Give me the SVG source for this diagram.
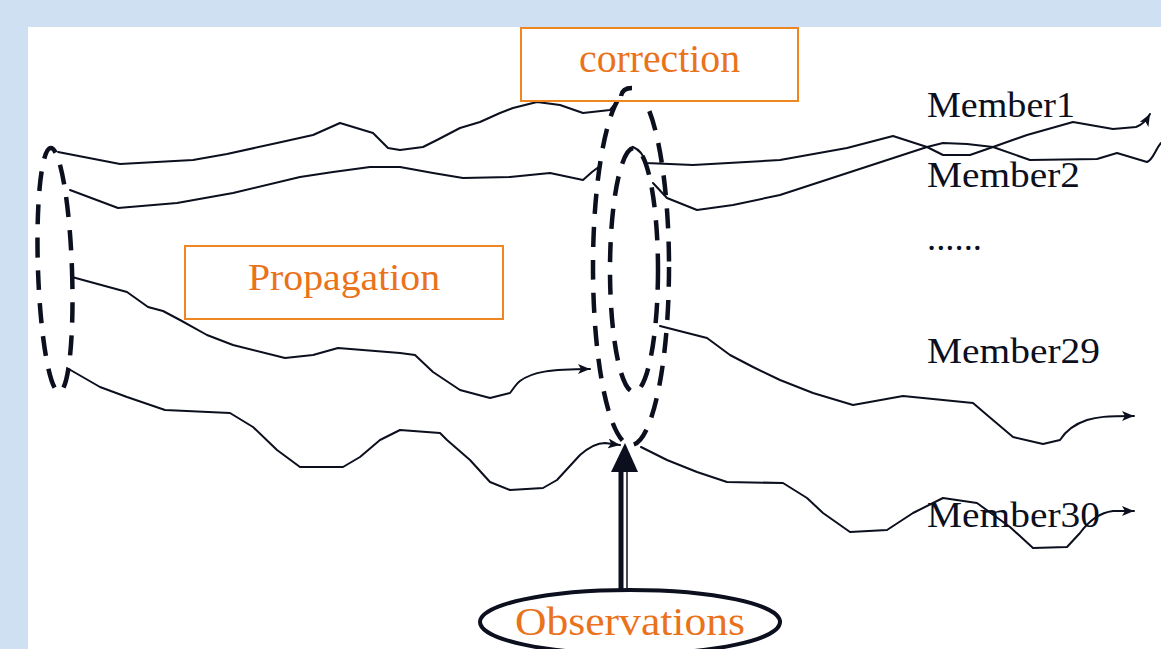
<svg xmlns="http://www.w3.org/2000/svg" width="1161" height="649" viewBox="0 0 1161 649">
<style>
.bg{fill:#cfe0f2}
.panel{fill:#ffffff}
.box{fill:#ffffff;stroke:#f0861f;stroke-width:2}
.otxt{font-family:"Liberation Serif","DejaVu Serif",serif;fill:#ea721b}
.mtxt{font-family:"Liberation Serif","DejaVu Serif",serif;fill:#0b0f1e;font-size:36px}
.curve{fill:none;stroke:#0b0f1e;stroke-width:2;stroke-linejoin:round;stroke-linecap:round}
.dash{fill:none;stroke:#0b0f1e;stroke-width:4.5;stroke-dasharray:20 13}
</style>
<defs>
<marker id="ah" markerUnits="userSpaceOnUse" markerWidth="13" markerHeight="10" refX="12" refY="5" orient="auto">
<path d="M0,0 L12,5 L0,10 L3,5 z" fill="#0b0f1e"/>
</marker>
</defs>
<rect class="bg" x="0" y="0" width="1161" height="649"/>
<rect class="panel" x="28" y="27" width="1133" height="622"/>

<g id="connectors">
<!-- Member1 before correction -->
<path class="curve" d="M58,152 L120,164 L193,160 L227,154 L277,143 L313,135 L340,123 L373,133 L388,148 L400,150 L423,147 L437,140 L460,128 L480,122 L500,113 L513,108 L537,102 L560,105 L583,113 L610,110 L620,98"/>
<!-- Member2 before correction -->
<path class="curve" d="M70,190 L118,208 L177,203 L233,193 L300,177 L333,172 L370,167 L400,167 L433,173 L463,178 L510,177 L550,173 L583,180 L592,172 L600,166"/>
<!-- Member29 before correction -->
<path class="curve" marker-end="url(#ah)" d="M72,277 L127,292 L148,307 L163,311 L180,320 L207,335 L233,345 L285,358 L313,355 L338,348 L400,353 L415,355 L433,372 L460,390 L490,398 L510,393 C514,388 516,384 520,381 C532,372 550,369 590,369"/>
<!-- Member30 before correction -->
<path class="curve" marker-end="url(#ah)" d="M67,368 L100,387 L127,397 L165,410 L230,413 L253,427 L277,450 L300,467 L343,467 L360,457 L380,440 L400,430 L440,433 L447,440 L470,460 L490,482 L510,490 L543,488 L557,480 L580,455 C588,448 596,443 605,443 L620,445"/>
<!-- Member1 after correction -->
<path class="curve" marker-end="url(#ah)" d="M633,147 C640,150 644,156 646,163 L693,165 L780,160 L847,148 L893,136 L927,147 L943,155 L970,155 L993,147 L1027,135 L1073,122 L1113,129 L1136,127 C1142,125 1146,121 1150,114"/>
<!-- Member2 after correction -->
<path class="curve" d="M653,183 L667,198 L697,210 L733,205 L780,195 L927,147 L943,143 L967,144 L993,147 L1030,160 L1097,159 L1117,153 L1147,162 C1153,160 1155,150 1161,143"/>
<!-- Member29 after correction -->
<path class="curve" marker-end="url(#ah)" d="M660,326 L707,338 L730,355 L753,367 L780,380 L813,393 L853,405 L903,396 L973,403 L987,415 L1013,437 L1043,444 L1060,440 C1065,432 1075,424 1087,420 C1097,417 1105,416 1134,416"/>
<!-- Member30 after correction -->
<path class="curve" marker-end="url(#ah)" d="M641,447 L667,460 L697,472 L727,482 L783,483 L807,498 L823,513 L850,532 L887,530 L913,513 L943,498 L977,503 L1010,527 L1033,548 L1067,547 L1080,533 C1088,522 1098,513 1113,511 L1134,511"/>
<!-- Observations arrow -->
<line x1="621" y1="590" x2="621" y2="470" stroke="#0b0f1e" stroke-width="5"/>
<line x1="627" y1="590" x2="627" y2="470" stroke="#0b0f1e" stroke-width="1.5"/>
<polygon points="625,443 611,472 638,472" fill="#0b0f1e"/>
</g>

<g id="ensemble-initial">
<ellipse class="dash" cx="55" cy="270" rx="17" ry="122" transform="rotate(-2 55 270)"/>
</g>

<g id="ensemble-analysis">
<ellipse class="dash" cx="631" cy="267" rx="38" ry="178"/>
<ellipse class="dash" cx="634" cy="270" rx="24" ry="122"/>
</g>

<g id="correction">
<rect class="box" x="521" y="28" width="277" height="73"/>
<text class="otxt" x="579" y="72" font-size="40" textLength="161" lengthAdjust="spacingAndGlyphs">correction</text>
</g>
<!-- redraw top cap of analysis ellipse over box -->
<path d="M621,96 C622,90 626,88 632,88" fill="none" stroke="#0b0f1e" stroke-width="4.5"/>

<g id="propagation">
<rect class="box" x="185" y="246" width="318" height="73"/>
<text class="otxt" x="248" y="290" font-size="38" textLength="192" lengthAdjust="spacingAndGlyphs">Propagation</text>
</g>

<g id="members">
<text class="mtxt" x="927" y="117" textLength="148" lengthAdjust="spacingAndGlyphs">Member1</text>
<text class="mtxt" x="927" y="187" textLength="153" lengthAdjust="spacingAndGlyphs">Member2</text>
<text class="mtxt" x="927" y="250" textLength="55" lengthAdjust="spacingAndGlyphs">......</text>
<text class="mtxt" x="927" y="363" textLength="173" lengthAdjust="spacingAndGlyphs">Member29</text>
<text class="mtxt" x="927" y="527" textLength="173" lengthAdjust="spacingAndGlyphs">Member30</text>
</g>

<g id="observations">
<ellipse cx="630" cy="622" rx="150" ry="32" fill="#ffffff" stroke="#0b0f1e" stroke-width="4"/>
<text class="otxt" x="515" y="635" font-size="40" textLength="230" lengthAdjust="spacingAndGlyphs">Observations</text>
</g>
</svg>
